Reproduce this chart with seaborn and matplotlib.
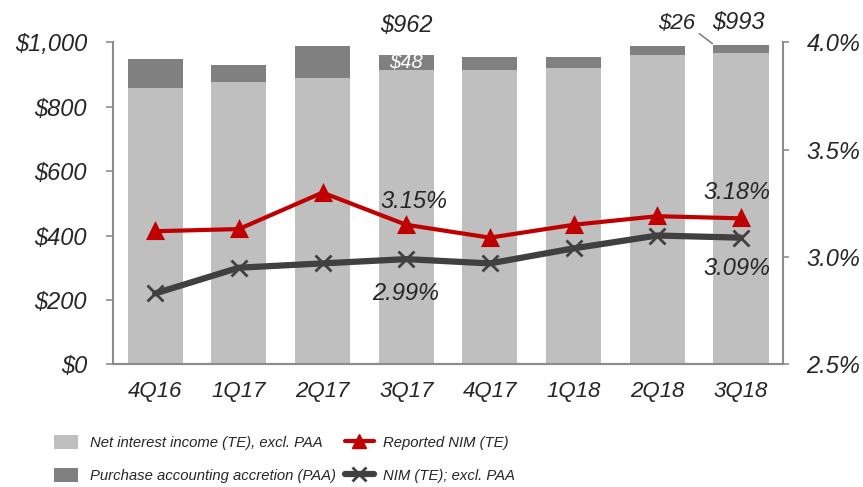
import matplotlib
matplotlib.use("Agg")
import matplotlib.pyplot as plt
import seaborn as sns
from matplotlib.patches import Patch
from matplotlib.lines import Line2D
import matplotlib.ticker as mticker

# data
quarters = ["4Q16", "1Q17", "2Q17", "3Q17", "4Q17", "1Q18", "2Q18", "3Q18"]
nii_excl_paa = [857, 877, 888, 914, 915, 920, 961, 967]
paa = [92, 52, 100, 48, 38, 33, 27, 26]
reported_nim = [3.12, 3.13, 3.30, 3.15, 3.09, 3.15, 3.19, 3.18]
nim_excl_paa = [2.83, 2.95, 2.97, 2.99, 2.97, 3.04, 3.10, 3.09]
total_nii = [a + b for a, b in zip(nii_excl_paa, paa)]

light = "#BFBFBF"
dark = "#808080"
red = "#C00000"
charcoal = "#404040"
axis_col = "#8C8C8C"

sns.set_style("white")
plt.rcParams["font.family"] = ["Liberation Sans", "DejaVu Sans"]
plt.rcParams["font.style"] = "italic"

fig = plt.figure(figsize=(8.63, 4.87), dpi=100)
ax = fig.add_axes([0.1313, 0.252, 0.7757, 0.661])

# stacked bars: total in dark, base drawn over it in light
sns.barplot(x=quarters, y=total_nii, color=dark, width=0.66, saturation=1,
            linewidth=0, ax=ax)
sns.barplot(x=quarters, y=nii_excl_paa, color=light, width=0.66, saturation=1,
            linewidth=0, ax=ax)

ax2 = ax.twinx()
sns.pointplot(x=quarters, y=nim_excl_paa, color=charcoal, markers="x",
              markersize=11, markeredgewidth=2, linewidth=4.5, errorbar=None, ax=ax2)
sns.pointplot(x=quarters, y=reported_nim, color=red, markers="^",
              markersize=10, linewidth=3, errorbar=None, ax=ax2)

ax.set_ylim(0, 1000)
ax2.set_ylim(2.5, 4.0)
ax.set_xlim(-0.5, 7.5)
ax2.set_xlim(-0.5, 7.5)
ax.set_ylabel("")
ax2.set_ylabel("")

ax.yaxis.set_major_locator(mticker.MultipleLocator(200))
ax.yaxis.set_major_formatter(mticker.FuncFormatter(lambda v, p: f"${v:,.0f}"))
ax2.yaxis.set_major_locator(mticker.MultipleLocator(0.5))
ax2.yaxis.set_major_formatter(mticker.FuncFormatter(lambda v, p: f"{v:.1f}%"))

# ticks between categories, labels at centres
ax.set_xticks([i - 0.5 for i in range(len(quarters) + 1)])
ax.set_xticklabels([])
ax.set_xticks(range(len(quarters)), minor=True)
ax.set_xticklabels(quarters, minor=True)
ax.tick_params(axis="x", which="minor", length=0, labelsize=16, pad=12)
ax.tick_params(axis="x", which="major", length=5.5, width=1.2, color=axis_col, direction="out")
ax.tick_params(axis="y", length=5, width=1.2, color=axis_col, direction="out", labelsize=17, pad=14)
ax2.tick_params(axis="y", length=4, width=1.2, color=axis_col, direction="out", labelsize=17, pad=13)
ax2.tick_params(axis="x", which="both", length=0, labelbottom=False)

for a in (ax, ax2):
    a.spines["top"].set_visible(False)
    for s in ("left", "right", "bottom"):
        a.spines[s].set_color(axis_col)
        a.spines[s].set_linewidth(1.5)
ax.spines["right"].set_visible(False)
ax2.spines["left"].set_visible(False)

# annotations
ax.text(3, 1033, f"${total_nii[3]:,}", ha="center", va="baseline", fontsize=17, clip_on=False)
ax.text(3, (total_nii[3] + nii_excl_paa[3]) / 2, f"${paa[3]}", ha="center", va="center",
        fontsize=14.5, color="white")
ax.text(6.975, 1040, f"${total_nii[7]:,}", ha="center", va="baseline", fontsize=17, clip_on=False)
ax.annotate(f"${paa[7]}", xy=(6.66, 996), xytext=(6.45, 1040),
            ha="right", va="baseline", fontsize=16, annotation_clip=False,
            arrowprops=dict(arrowstyle="-", color="#707070", lw=1,
                            shrinkA=1, shrinkB=0, relpos=(1, 0.2)))

ax2.text(3.087, 3.229, f"{reported_nim[3]:.2f}%", ha="center", va="baseline", fontsize=17)
ax2.text(2.997, 2.80, f"{nim_excl_paa[3]:.2f}%", ha="center", va="baseline", fontsize=17)
ax2.text(6.95, 3.268, f"{reported_nim[7]:.2f}%", ha="center", va="baseline", fontsize=17)
ax2.text(6.95, 2.916, f"{nim_excl_paa[7]:.2f}%", ha="center", va="baseline", fontsize=17)

# legend in two blocks (bars left, lines right)
leg_font = {"family": ["Liberation Sans", "DejaVu Sans"], "style": "italic", "size": 10.7}
bar_handles = [
    Patch(facecolor=light, edgecolor="none", label="Net interest income (TE), excl. PAA"),
    Patch(facecolor=dark, edgecolor="none", label="Purchase accounting accretion (PAA)"),
]
line_handles = [
    Line2D([], [], color=red, lw=3, marker="^", markersize=10, label="Reported NIM (TE)"),
    Line2D([], [], color=charcoal, lw=4.5, marker="x", markersize=10, markeredgewidth=2,
           label="NIM (TE); excl. PAA"),
]
fig.legend(handles=bar_handles, loc="upper left", bbox_to_anchor=(54 / 863, 0.106),
           frameon=False, prop=leg_font, borderpad=0, handlelength=1.6, handleheight=1.07,
           handletextpad=0.8, labelspacing=1.2, borderaxespad=0)
fig.legend(handles=line_handles, loc="upper left", bbox_to_anchor=(345 / 863, 0.106),
           frameon=False, prop=leg_font, borderpad=0, handlelength=1.95, handleheight=1.07,
           handletextpad=0.6, labelspacing=1.2, borderaxespad=0)

fig.savefig("out.png", dpi=100)
